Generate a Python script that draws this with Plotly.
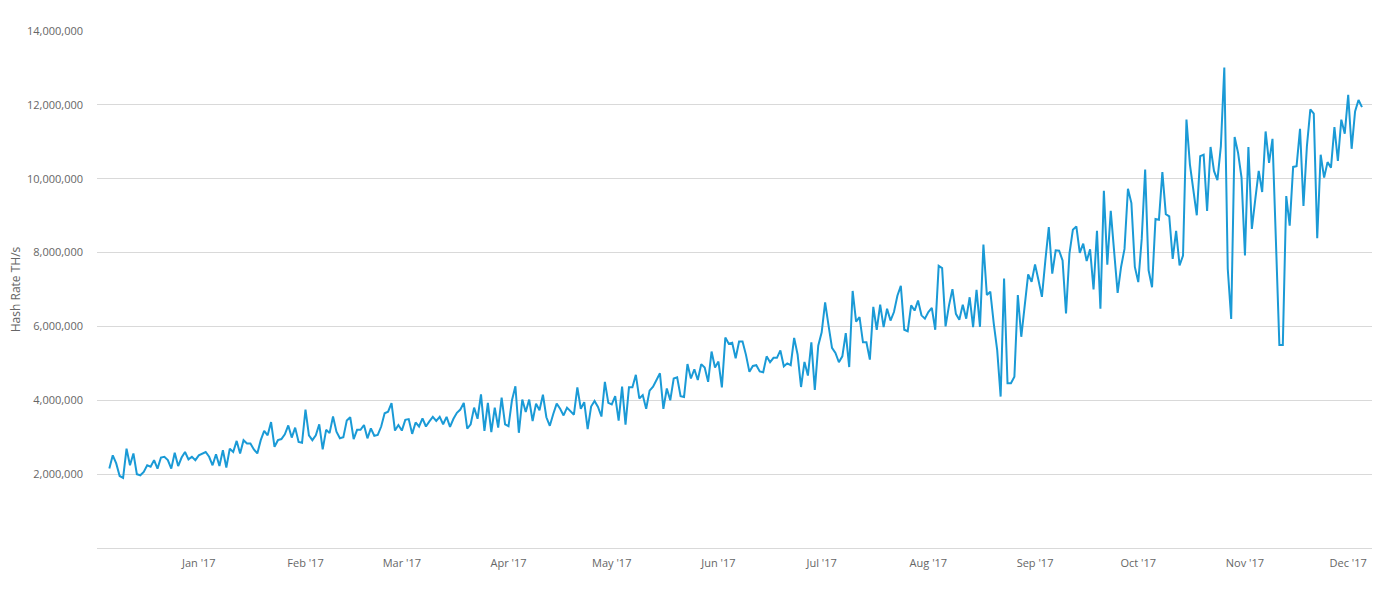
import plotly.graph_objects as go
import pandas as pd

# Daily hash rate (millions of TH/s), starting 2016-12-06
start_date = "2016-12-06"

hash_part1 = [2.15, 2.51, 2.29, 1.95, 1.90, 2.69, 2.24, 2.56, 2.0, 1.97, 2.06, 2.24, 2.2, 2.38, 2.15, 2.45,
              2.47, 2.38, 2.15, 2.58, 2.22, 2.45, 2.6, 2.4, 2.47, 2.38, 2.51, 2.56, 2.6, 2.47, 2.24]
hash_part2 = [2.54, 2.22, 2.65, 2.18, 2.69, 2.6, 2.9, 2.56, 2.92, 2.83, 2.83, 2.67, 2.56, 2.92, 3.17, 3.05,
              3.41, 2.74, 2.92, 2.95, 3.08, 3.32, 2.99, 3.26, 2.87, 2.85, 3.75, 3.05, 2.92, 3.05, 3.35, 2.67]
hash_part3 = [3.2, 3.11, 3.56, 3.15, 2.97, 3.0, 3.45, 3.54, 2.95, 3.2, 3.2, 3.33, 2.97, 3.24, 3.04, 3.06,
              3.29, 3.65, 3.69, 3.92, 3.18, 3.33, 3.18, 3.47, 3.49, 3.09, 3.4, 3.29, 3.51, 3.29]
hash_part4 = [3.43, 3.55, 3.44, 3.55, 3.35, 3.55, 3.28, 3.5, 3.66, 3.75, 3.93, 3.23, 3.35, 3.8, 3.5, 4.16,
              3.17, 3.93, 3.14, 3.8, 3.26, 4.07, 3.35, 3.3, 4.0, 4.38, 3.12, 4.02, 3.68, 4.02, 3.44, 3.91]
hash_part5 = [3.73, 4.15, 3.54, 3.31, 3.63, 3.91, 3.77, 3.59, 3.8, 3.71, 3.61, 4.35, 3.77, 3.95, 3.22, 3.83,
              3.98, 3.82, 3.56, 4.5, 3.93, 3.89, 4.11, 3.45, 4.37, 3.34, 4.35, 4.35, 4.69, 4.05, 4.14, 3.77]
hash_part6 = [4.26, 4.37, 4.56, 4.73, 3.77, 4.32, 4.0, 4.59, 4.62, 4.11, 4.09, 4.98, 4.59, 4.84, 4.55, 4.98,
              4.89, 4.5, 5.32, 4.89, 5.05, 4.35, 5.7, 5.53, 5.56, 5.14, 5.59, 5.59, 5.23, 4.77, 4.93, 4.95]
hash_part7 = [4.78, 4.76, 5.19, 5.03, 5.15, 5.15, 5.35, 4.92, 5.0, 4.95, 5.69, 5.24, 4.36, 5.04, 4.67, 5.57,
              4.28, 5.48, 5.84, 6.65, 6.02, 5.42, 5.28, 5.03, 5.19, 5.82, 4.9, 6.96, 6.13, 6.25, 5.57, 5.57]
hash_part8 = [5.1, 6.53, 5.91, 6.59, 5.98, 6.48, 6.16, 6.39, 6.83, 7.1, 5.91, 5.87, 6.57, 6.43, 6.7, 6.3,
              6.21, 6.39, 6.5, 5.91, 7.64, 7.58, 6.0, 6.57, 7.01, 6.34, 6.18, 6.59, 6.21, 6.79, 5.98, 6.99]
hash_part9 = [5.99, 8.22, 6.85, 6.94, 6.08, 5.36, 4.1, 7.3, 4.46, 4.46, 4.64, 6.85, 5.72, 6.58, 7.41, 7.21,
              7.68, 7.25, 6.8, 7.79, 8.69, 7.43, 8.06, 8.05, 7.79, 6.35, 7.97, 8.62, 8.71, 7.99, 8.24, 7.77]
hash_part10 = [8.09, 7.0, 8.59, 6.48, 9.67, 7.67, 9.13, 8.01, 6.91, 7.61, 8.1, 9.73, 9.34, 7.61, 7.2, 8.37,
               10.25, 7.52, 7.06, 8.91, 8.89, 10.18, 9.04, 8.98, 7.83, 8.59, 7.65, 7.92, 11.6, 10.39, 9.71, 9.01]
hash_part11 = [10.61, 10.65, 9.13, 10.86, 10.21, 9.96, 10.88, 13.01, 7.56, 6.2, 11.13, 10.7, 10.03, 7.92,
               10.86, 8.64, 9.44, 10.21, 9.64, 11.28, 10.43, 11.08, 8.3, 5.5, 5.5, 9.53, 8.73, 10.32, 10.34,
               11.35, 9.26, 10.88, 11.88, 11.76, 8.39, 10.65, 10.03, 10.45, 10.3, 11.4, 10.48, 11.6, 11.22,
               12.27, 10.81, 11.82, 12.13, 11.94]

hash_millions = (hash_part1 + hash_part2 + hash_part3 + hash_part4 + hash_part5 + hash_part6 +
                 hash_part7 + hash_part8 + hash_part9 + hash_part10 + hash_part11)
hash_rate = [v * 1_000_000 for v in hash_millions]
dates = pd.date_range(start_date, periods=len(hash_rate), freq="D")

y_ticks = [2_000_000, 4_000_000, 6_000_000, 8_000_000, 10_000_000, 12_000_000, 14_000_000]
y_title = "Hash Rate TH/s"

FONT = "Open Sans, Liberation Sans, sans-serif"
GREY = "#666666"
GRID = "#d9d9d9"

fig = go.Figure()
fig.add_trace(go.Scatter(
    x=dates, y=hash_rate, mode="lines",
    line=dict(color="#1a9ad6", width=2),
    hoverinfo="x+y", showlegend=False,
))

fig.update_layout(
    width=1400, height=600,
    margin=dict(l=97, r=28, t=31, b=52),
    paper_bgcolor="white", plot_bgcolor="white",
    font=dict(family=FONT, size=11, color=GREY),
    xaxis=dict(
        type="date", automargin=False,
        range=["2016-12-02 10:00", "2017-12-07 22:00"],
        tick0="2017-01-01", dtick="M1", tickformat="%b '%y",
        showgrid=False, zeroline=False,
        showline=True, linecolor=GRID, linewidth=1,
        ticks="", ticklabelstandoff=5,
        tickfont=dict(family=FONT, size=11, color=GREY),
    ),
    yaxis=dict(
        automargin=False,
        range=[0, 14_000_000],
        tickvals=y_ticks, tickformat=",d",
        showgrid=True, gridcolor=GRID, gridwidth=1,
        zeroline=False, showline=False, ticks="",
        ticklabelstandoff=13,
        tickfont=dict(family=FONT, size=11, color=GREY),
        title=dict(text=y_title, font=dict(family=FONT, size=12, color=GREY), standoff=3),
    ),
)

fig.write_html("out.html")
